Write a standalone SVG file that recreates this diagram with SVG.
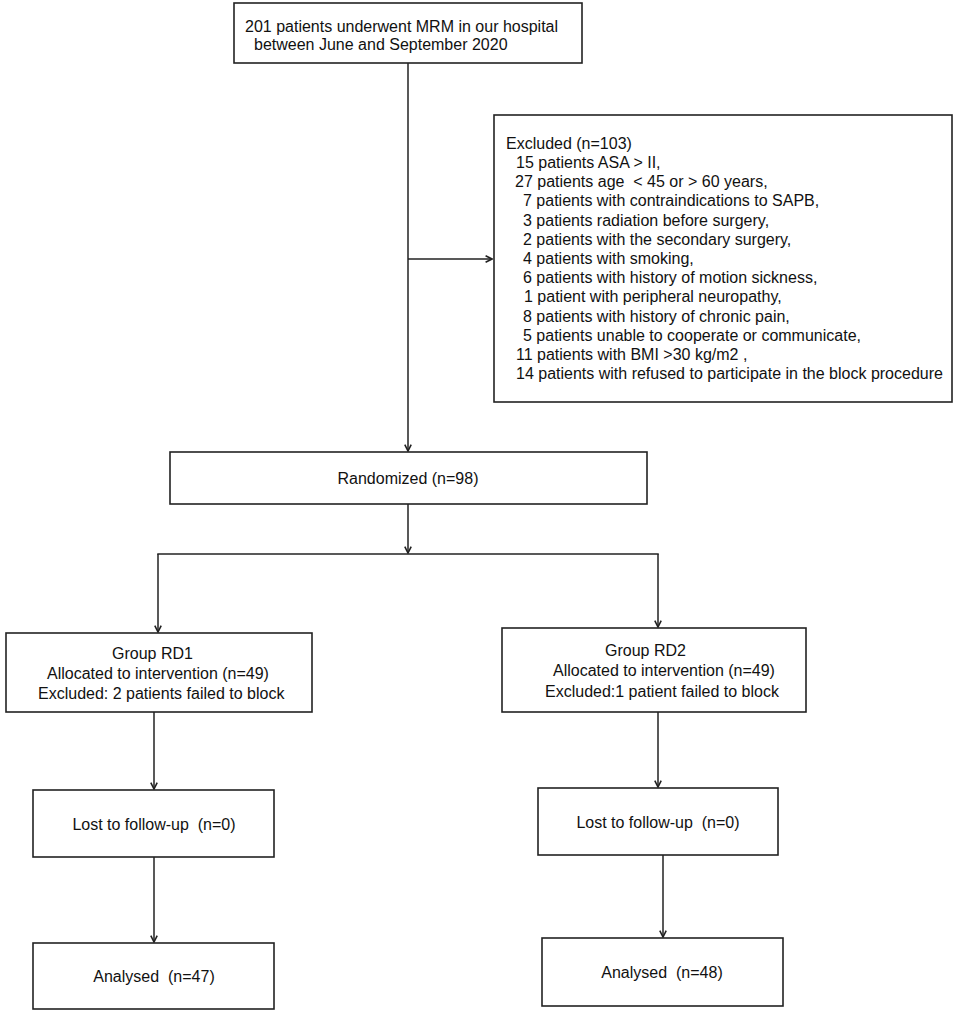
<svg xmlns="http://www.w3.org/2000/svg" width="957" height="1016" viewBox="0 0 957 1016" xml:space="preserve">
<style>
.box{fill:#fff;stroke:#222;stroke-width:1.6}
.t{font-family:"Liberation Sans",Arial,sans-serif;font-size:16px;fill:#111;white-space:pre}
.c{text-anchor:middle}
.ln{fill:none;stroke:#222;stroke-width:1.5}
</style>
<defs>
<marker id="ah" viewBox="0 0 10 10" refX="9" refY="5" markerWidth="8" markerHeight="8" markerUnits="userSpaceOnUse" orient="auto">
<path d="M1,1 L9,5 L1,9" fill="none" stroke="#222" stroke-width="2"/>
</marker>
</defs>
<rect width="957" height="1016" fill="#fff"/>
<g id="connectors">
<line class="ln" x1="408" y1="63" x2="408" y2="451" marker-end="url(#ah)"/>
<line class="ln" x1="408" y1="259" x2="492" y2="259" marker-end="url(#ah)"/>
<line class="ln" x1="408" y1="504" x2="408" y2="553" marker-end="url(#ah)"/>
<line class="ln" x1="157.25" y1="554" x2="658.75" y2="554"/>
<line class="ln" x1="158" y1="554" x2="158" y2="632" marker-end="url(#ah)"/>
<line class="ln" x1="658" y1="554" x2="658" y2="627" marker-end="url(#ah)"/>
<line class="ln" x1="154" y1="712" x2="154" y2="789" marker-end="url(#ah)"/>
<line class="ln" x1="154" y1="857" x2="154" y2="942" marker-end="url(#ah)"/>
<line class="ln" x1="658" y1="712" x2="658" y2="787" marker-end="url(#ah)"/>
<line class="ln" x1="663" y1="855" x2="663" y2="937" marker-end="url(#ah)"/>
</g>
<g id="n-start">
<rect class="box" x="234" y="3" width="348" height="60"/>
<text class="t" x="245" y="32">201 patients underwent MRM in our hospital</text>
<text class="t" x="254" y="50">between June and September 2020</text>
</g>
<g id="n-excluded">
<rect class="box" x="494" y="115" width="458" height="287"/>
<text class="t" x="506" y="149">Excluded (n=103)</text>
<text class="t" x="516" y="168">15 patients ASA &gt; II,</text>
<text class="t" x="515" y="187">27 patients age  &lt; 45 or &gt; 60 years,</text>
<text class="t" x="523" y="206">7 patients with contraindications to SAPB,</text>
<text class="t" x="523" y="226">3 patients radiation before surgery,</text>
<text class="t" x="523" y="245">2 patients with the secondary surgery,</text>
<text class="t" x="523" y="264">4 patients with smoking,</text>
<text class="t" x="523" y="283">6 patients with history of motion sickness,</text>
<text class="t" x="524" y="302">1 patient with peripheral neuropathy,</text>
<text class="t" x="523" y="322">8 patients with history of chronic pain,</text>
<text class="t" x="523" y="341">5 patients unable to cooperate or communicate,</text>
<text class="t" x="516" y="360">11 patients with BMI &gt;30 kg/m2 ,</text>
<text class="t" x="516" y="379">14 patients with refused to participate in the block procedure</text>
</g>
<g id="n-randomized">
<rect class="box" x="170" y="452" width="477" height="52"/>
<text class="t c" x="408" y="484">Randomized (n=98)</text>
</g>
<g id="n-rd1">
<rect class="box" x="6" y="633" width="306" height="79"/>
<text class="t" x="112" y="659">Group RD1</text>
<text class="t" x="47" y="679">Allocated to intervention (n=49)</text>
<text class="t" x="38" y="699">Excluded: 2 patients failed to block</text>
</g>
<g id="n-rd2">
<rect class="box" x="502" y="628" width="304" height="84"/>
<text class="t" x="605" y="656">Group RD2</text>
<text class="t" x="553" y="676">Allocated to intervention (n=49)</text>
<text class="t" x="545" y="697">Excluded:1 patient failed to block</text>
</g>
<g id="n-lost1">
<rect class="box" x="33" y="790" width="241" height="67"/>
<text class="t c" x="154" y="830">Lost to follow-up  (n=0)</text>
</g>
<g id="n-lost2">
<rect class="box" x="538" y="788" width="240" height="67"/>
<text class="t c" x="658" y="828">Lost to follow-up  (n=0)</text>
</g>
<g id="n-an1">
<rect class="box" x="33" y="943" width="241" height="66"/>
<text class="t c" x="154" y="982">Analysed  (n=47)</text>
</g>
<g id="n-an2">
<rect class="box" x="542" y="938" width="241" height="68"/>
<text class="t c" x="662" y="978">Analysed  (n=48)</text>
</g>
</svg>
